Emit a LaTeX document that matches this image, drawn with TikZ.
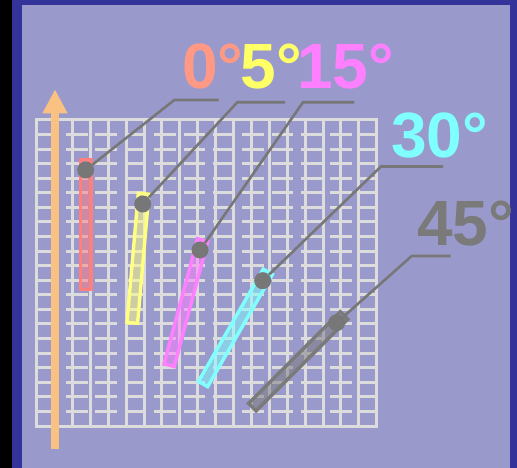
\documentclass[tikz,border=0pt]{standalone}
\usepackage{fontspec}
\setmainfont{Liberation Sans}
\usetikzlibrary{arrows.meta}
\definecolor{frameblue}{HTML}{333399}
\definecolor{panel}{HTML}{9999CC}
\definecolor{gridgray}{HTML}{DCDCDC}
\definecolor{axisorange}{HTML}{F9C283}
\definecolor{leadgray}{HTML}{777777}
\definecolor{c0}{HTML}{FF7F7F}
\definecolor{t0}{HTML}{FF9985}
\definecolor{c5}{HTML}{FFFF80}
\definecolor{t5}{HTML}{FFFF66}
\definecolor{c15}{HTML}{FF80FF}
\definecolor{c30}{HTML}{80FFFF}
\definecolor{c45}{HTML}{7A7A7A}
\tikzset{
  gridline/.style={gridgray, line width=3pt},
  stripbox/.style={line width=3.4pt, fill opacity=0.5},
  dotnode/.style={circle, fill=leadgray, inner sep=0pt, minimum size=17pt},
  leadline/.style={leadgray, line width=2.6pt},
  anglelabel/.style={font=\bfseries\fontsize{64}{64}\selectfont, inner sep=0pt, anchor=base west},
}
\begin{document}
\begin{tikzpicture}[x=1pt, y=-1pt]
\useasboundingbox (0,0) rectangle (517,468);
% frame
\fill[black] (0,0) rectangle (12,468);
\fill[frameblue] (12,0) rectangle (517,468);
\fill[panel] (21.7,5) rectangle (510.3,468);
% grid
\draw[gridline] (36.7,120) rectangle (376.7,426);
\foreach \i in {1,...,18}
  \draw[gridline] (36.7+17.895*\i,120) -- ++(0,306);
\foreach \j in {1,...,20}
  \draw[gridline, dash pattern=on 21.5pt off 7.87pt] (36.7,120+14.571*\j) -- ++(340,0);
% axis arrow
\coordinate (axis base) at (55,449.3);
\coordinate (axis tip) at (55,89.3);
\draw[axisorange, line width=8pt, -{Triangle[width=23.3pt, length=24pt]}] (axis base) -- (axis tip);
% strips: angle / dot x / dot y / colour
\foreach \a/\px/\py/\c [count=\k] in {0/85.7/170/c0, 5/142.7/204/c5, 15/200/250/c15, 30/262.7/280.7/c30, 45/336.7/322.7/c45}{
  \begin{scope}[shift={(\px,\py)}, rotate=-\a]
    \draw[stripbox, draw=\c, fill=\c] (-5.3,-10.3) rectangle (5.3,119.3);
  \end{scope}
  \node[dotnode] (d\k) at (\px,\py) {};
}
% leaders
\foreach \k/\ex/\ey/\fx in {1/174.3/100/218.7, 2/237.3/102.3/285, 3/303/102.3/354.3, 4/381/166.5/443, 5/411.7/256/450.7}{
  \coordinate (e\k) at (\ex,\ey);
  \coordinate (f\k) at (\fx,\ey);
  \draw[leadline] (d\k) -- (e\k) -- (f\k);
}
% labels
\node[anglelabel, t0] (l0) at (182,89) {0°};
\node[anglelabel, t5] (l5) at (240.5,89) {5°};
\node[anglelabel, c15] (l15) at (297,89) {15°};
\node[anglelabel, c30] (l30) at (391,158) {30°};
\node[anglelabel, c45] (l45) at (417,245) {45°};
\end{tikzpicture}
\end{document}
